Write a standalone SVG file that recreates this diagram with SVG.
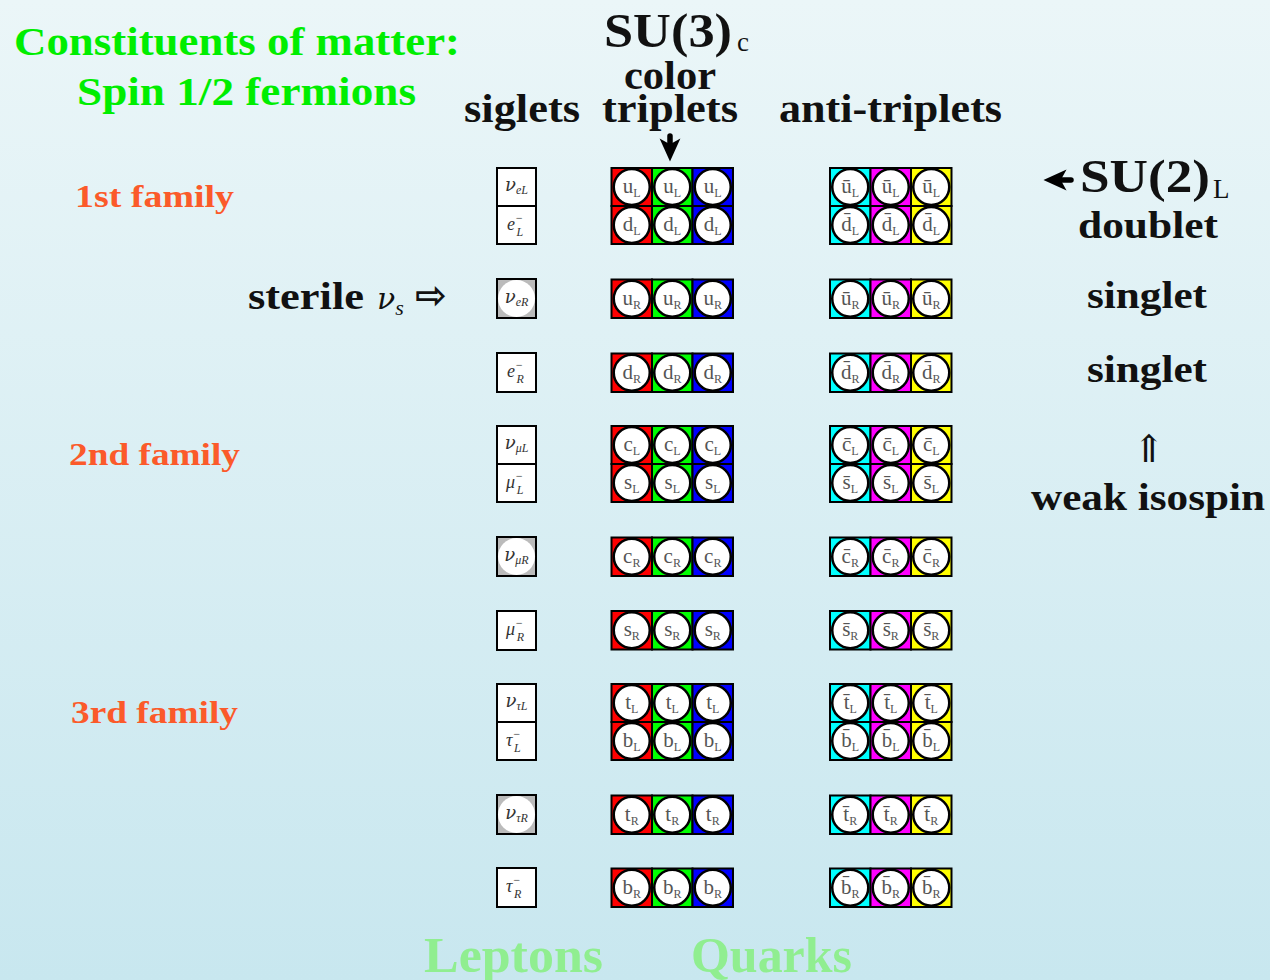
<svg xmlns="http://www.w3.org/2000/svg" width="1270" height="980" viewBox="0 0 1270 980">
<defs>
<linearGradient id="bg" x1="0" y1="0" x2="0" y2="1">
<stop offset="0" stop-color="#ebf6f8"/>
<stop offset="1" stop-color="#c8e7ef"/>
</linearGradient>
<marker id="ah" viewBox="0 0 10 10" refX="5" refY="5" markerWidth="4.2" markerHeight="4.2" orient="auto" markerUnits="strokeWidth">
<path d="M0,0.5 L10,5 L0,9.5 L2.5,5 Z" fill="#000"/>
</marker>
<style>
.bf{font-family:"Liberation Serif",serif;font-weight:bold}
.nf{font-family:"Liberation Serif",serif}
.hd{fill:#111}
.fam{fill:#fb5a2a;font-size:32px}
.cell{stroke:#000;stroke-width:2}
.R{fill:#ff0000}.G{fill:#00ff00}.B{fill:#0000ff}.C{fill:#00ffff}.M{fill:#ff00ff}.Y{fill:#ffff00}
.ball{fill:#fff;stroke:#000;stroke-width:2.5}
.ql{font-family:"Liberation Serif",serif;font-size:21px;fill:#555;text-anchor:middle}
.sb{font-size:12px}
.lbox{fill:#fff;stroke:#000;stroke-width:2}
.gbox{fill:#bbbbbb;stroke:#000;stroke-width:2}
.wb{fill:#fff}
.lt{font-family:"Liberation Serif",serif;font-style:italic;font-size:18px;fill:#333}
.nu{font-family:"DejaVu Serif",serif}
.ls{font-size:12px}
.conn{stroke:#000;stroke-width:5.5;fill:none;stroke-linecap:round}
</style>
</defs>
<rect width="1270" height="980" fill="url(#bg)"/>

<g id="titles">
<text class="bf" x="14" y="55" font-size="40" fill="#00ee00" textLength="446" lengthAdjust="spacingAndGlyphs">Constituents of matter:</text>
<text class="bf" x="77" y="105" font-size="40" fill="#00ee00" textLength="339" lengthAdjust="spacingAndGlyphs">Spin 1/2 fermions</text>
<text class="bf hd" x="604" y="47" font-size="48" textLength="128" lengthAdjust="spacingAndGlyphs">SU(3)</text>
<text class="nf hd" x="737" y="51" font-size="27">c</text>
<text class="bf hd" x="624" y="89" font-size="40" textLength="92" lengthAdjust="spacingAndGlyphs">color</text>
<text class="bf hd" x="464" y="122" font-size="40" textLength="116" lengthAdjust="spacingAndGlyphs">siglets</text>
<text class="bf hd" x="602" y="122" font-size="40" textLength="136" lengthAdjust="spacingAndGlyphs">triplets</text>
<text class="bf hd" x="779" y="122" font-size="40" textLength="223" lengthAdjust="spacingAndGlyphs">anti-triplets</text>
<text class="bf fam" x="75" y="207" textLength="159" lengthAdjust="spacingAndGlyphs">1st family</text>
<text class="bf fam" x="69" y="465" textLength="171" lengthAdjust="spacingAndGlyphs">2nd family</text>
<text class="bf fam" x="71" y="723" textLength="167" lengthAdjust="spacingAndGlyphs">3rd family</text>
<text class="bf hd" x="248" y="309" font-size="38" textLength="116" lengthAdjust="spacingAndGlyphs">sterile</text>
<text class="hd" x="377" y="309" font-family="DejaVu Serif,serif" font-size="30" font-style="italic">ν<tspan font-family="Liberation Serif,serif" font-size="22" dy="6">s</tspan></text>
<text x="431" y="308" font-family="DejaVu Sans,sans-serif" font-weight="bold" font-size="38" text-anchor="middle" fill="#111">⇨</text>
<text class="bf hd" x="1080" y="192" font-size="46" textLength="130" lengthAdjust="spacingAndGlyphs">SU(2)</text>
<text class="nf hd" x="1213" y="198" font-size="27">L</text>
<text class="bf hd" x="1078" y="238" font-size="38" textLength="140" lengthAdjust="spacingAndGlyphs">doublet</text>
<text class="bf hd" x="1087" y="308" font-size="38" textLength="120" lengthAdjust="spacingAndGlyphs">singlet</text>
<text class="bf hd" x="1087" y="382" font-size="38" textLength="120" lengthAdjust="spacingAndGlyphs">singlet</text>
<text x="1149" y="462" font-family="DejaVu Serif,serif" font-size="38" text-anchor="middle" fill="#111">⇑</text>
<text class="bf hd" x="1031" y="510" font-size="38" textLength="234" lengthAdjust="spacingAndGlyphs">weak isospin</text>
<text class="bf" x="424" y="972" font-size="50" fill="#90ee90" textLength="179" lengthAdjust="spacingAndGlyphs">Leptons</text>
<text class="bf" x="691" y="972" font-size="50" fill="#90ee90" textLength="161" lengthAdjust="spacingAndGlyphs">Quarks</text>
</g>

<g id="connectors">
<path class="conn" d="M670,136 L670,150" marker-end="url(#ah)"/>
<path class="conn" d="M1071,180 L1055,180" marker-end="url(#ah)"/>
</g>

<!-- Leptons -->
<g id="nu-eL" transform="translate(497,168)"><rect class="lbox" width="39" height="38"/><text class="lt" x="19.5" y="23" text-anchor="middle"><tspan class="nu">ν</tspan><tspan class="ls" dy="3">eL</tspan></text></g>
<g id="e-L" transform="translate(497,206)"><rect class="lbox" width="39" height="38"/><text class="lt" x="10" y="24">e<tspan class="ls" dy="-8">−</tspan><tspan class="ls" dx="-6.5" dy="14">L</tspan></text></g>
<g id="nu-eR" transform="translate(497,279)"><rect class="gbox" width="39" height="39"/><circle class="wb" cx="19.5" cy="19.5" r="18.5"/><text class="lt" x="19.5" y="24" text-anchor="middle" font-size="17"><tspan class="nu">ν</tspan><tspan class="ls" dy="3">eR</tspan></text></g>
<g id="e-R" transform="translate(497,353)"><rect class="lbox" width="39" height="39"/><text class="lt" x="10" y="24">e<tspan class="ls" dy="-8">−</tspan><tspan class="ls" dx="-6.5" dy="14">R</tspan></text></g>
<g id="nu-muL" transform="translate(497,426)"><rect class="lbox" width="39" height="38"/><text class="lt" x="19.5" y="23" text-anchor="middle"><tspan class="nu">ν</tspan><tspan class="ls" dy="3">μL</tspan></text></g>
<g id="mu-L" transform="translate(497,464)"><rect class="lbox" width="39" height="38"/><text class="lt" x="9" y="24">μ<tspan class="ls" dy="-8">−</tspan><tspan class="ls" dx="-6.5" dy="14">L</tspan></text></g>
<g id="nu-muR" transform="translate(497,537)"><rect class="gbox" width="39" height="39"/><circle class="wb" cx="19.5" cy="19.5" r="18.5"/><text class="lt" x="19.5" y="24" text-anchor="middle" font-size="17"><tspan class="nu">ν</tspan><tspan class="ls" dy="3">μR</tspan></text></g>
<g id="mu-R" transform="translate(497,611)"><rect class="lbox" width="39" height="39"/><text class="lt" x="9" y="24">μ<tspan class="ls" dy="-8">−</tspan><tspan class="ls" dx="-6.5" dy="14">R</tspan></text></g>
<g id="nu-tauL" transform="translate(497,684)"><rect class="lbox" width="39" height="38"/><text class="lt" x="19.5" y="23" text-anchor="middle"><tspan class="nu">ν</tspan><tspan class="ls" dy="3">τL</tspan></text></g>
<g id="tau-L" transform="translate(497,722)"><rect class="lbox" width="39" height="38"/><text class="lt" x="9" y="24">τ<tspan class="ls" dy="-8">−</tspan><tspan class="ls" dx="-6.5" dy="14">L</tspan></text></g>
<g id="nu-tauR" transform="translate(497,795)"><rect class="gbox" width="39" height="39"/><circle class="wb" cx="19.5" cy="19.5" r="18.5"/><text class="lt" x="19.5" y="24" text-anchor="middle" font-size="17"><tspan class="nu">ν</tspan><tspan class="ls" dy="3">τR</tspan></text></g>
<g id="tau-R" transform="translate(497,868)"><rect class="lbox" width="39" height="39"/><text class="lt" x="9" y="24">τ<tspan class="ls" dy="-8">−</tspan><tspan class="ls" dx="-6.5" dy="14">R</tspan></text></g>

<!-- Quarks family 1 -->
<g id="uL-r" transform="translate(611.5,168)"><rect class="cell R" width="40.5" height="38"/><circle class="ball" cx="20.25" cy="19" r="18"/><text class="ql" x="20.25" y="25">u<tspan class="sb" dy="4">L</tspan></text></g>
<g id="uL-g" transform="translate(652,168)"><rect class="cell G" width="40.5" height="38"/><circle class="ball" cx="20.25" cy="19" r="18"/><text class="ql" x="20.25" y="25">u<tspan class="sb" dy="4">L</tspan></text></g>
<g id="uL-b" transform="translate(692.5,168)"><rect class="cell B" width="40.5" height="38"/><circle class="ball" cx="20.25" cy="19" r="18"/><text class="ql" x="20.25" y="25">u<tspan class="sb" dy="4">L</tspan></text></g>
<g id="dL-r" transform="translate(611.5,206)"><rect class="cell R" width="40.5" height="38"/><circle class="ball" cx="20.25" cy="19" r="18"/><text class="ql" x="20.25" y="25">d<tspan class="sb" dy="4">L</tspan></text></g>
<g id="dL-g" transform="translate(652,206)"><rect class="cell G" width="40.5" height="38"/><circle class="ball" cx="20.25" cy="19" r="18"/><text class="ql" x="20.25" y="25">d<tspan class="sb" dy="4">L</tspan></text></g>
<g id="dL-b" transform="translate(692.5,206)"><rect class="cell B" width="40.5" height="38"/><circle class="ball" cx="20.25" cy="19" r="18"/><text class="ql" x="20.25" y="25">d<tspan class="sb" dy="4">L</tspan></text></g>
<g id="uR-r" transform="translate(611.5,279.5)"><rect class="cell R" width="40.5" height="38.5"/><circle class="ball" cx="20.25" cy="19.25" r="18"/><text class="ql" x="20.25" y="25">u<tspan class="sb" dy="4">R</tspan></text></g>
<g id="uR-g" transform="translate(652,279.5)"><rect class="cell G" width="40.5" height="38.5"/><circle class="ball" cx="20.25" cy="19.25" r="18"/><text class="ql" x="20.25" y="25">u<tspan class="sb" dy="4">R</tspan></text></g>
<g id="uR-b" transform="translate(692.5,279.5)"><rect class="cell B" width="40.5" height="38.5"/><circle class="ball" cx="20.25" cy="19.25" r="18"/><text class="ql" x="20.25" y="25">u<tspan class="sb" dy="4">R</tspan></text></g>
<g id="dR-r" transform="translate(611.5,353.5)"><rect class="cell R" width="40.5" height="38.5"/><circle class="ball" cx="20.25" cy="19.25" r="18"/><text class="ql" x="20.25" y="25">d<tspan class="sb" dy="4">R</tspan></text></g>
<g id="dR-g" transform="translate(652,353.5)"><rect class="cell G" width="40.5" height="38.5"/><circle class="ball" cx="20.25" cy="19.25" r="18"/><text class="ql" x="20.25" y="25">d<tspan class="sb" dy="4">R</tspan></text></g>
<g id="dR-b" transform="translate(692.5,353.5)"><rect class="cell B" width="40.5" height="38.5"/><circle class="ball" cx="20.25" cy="19.25" r="18"/><text class="ql" x="20.25" y="25">d<tspan class="sb" dy="4">R</tspan></text></g>

<!-- Antiquarks family 1 -->
<g id="ubL-c" transform="translate(830,168)"><rect class="cell C" width="40.5" height="38"/><circle class="ball" cx="20.25" cy="19" r="18"/><text class="ql" x="20.25" y="25">ū<tspan class="sb" dy="4">L</tspan></text></g>
<g id="ubL-m" transform="translate(870.5,168)"><rect class="cell M" width="40.5" height="38"/><circle class="ball" cx="20.25" cy="19" r="18"/><text class="ql" x="20.25" y="25">ū<tspan class="sb" dy="4">L</tspan></text></g>
<g id="ubL-y" transform="translate(911,168)"><rect class="cell Y" width="40.5" height="38"/><circle class="ball" cx="20.25" cy="19" r="18"/><text class="ql" x="20.25" y="25">ū<tspan class="sb" dy="4">L</tspan></text></g>
<g id="dbL-c" transform="translate(830,206)"><rect class="cell C" width="40.5" height="38"/><circle class="ball" cx="20.25" cy="19" r="18"/><text class="ql" x="20.25" y="25">d̄<tspan class="sb" dy="4">L</tspan></text></g>
<g id="dbL-m" transform="translate(870.5,206)"><rect class="cell M" width="40.5" height="38"/><circle class="ball" cx="20.25" cy="19" r="18"/><text class="ql" x="20.25" y="25">d̄<tspan class="sb" dy="4">L</tspan></text></g>
<g id="dbL-y" transform="translate(911,206)"><rect class="cell Y" width="40.5" height="38"/><circle class="ball" cx="20.25" cy="19" r="18"/><text class="ql" x="20.25" y="25">d̄<tspan class="sb" dy="4">L</tspan></text></g>
<g id="ubR-c" transform="translate(830,279.5)"><rect class="cell C" width="40.5" height="38.5"/><circle class="ball" cx="20.25" cy="19.25" r="18"/><text class="ql" x="20.25" y="25">ū<tspan class="sb" dy="4">R</tspan></text></g>
<g id="ubR-m" transform="translate(870.5,279.5)"><rect class="cell M" width="40.5" height="38.5"/><circle class="ball" cx="20.25" cy="19.25" r="18"/><text class="ql" x="20.25" y="25">ū<tspan class="sb" dy="4">R</tspan></text></g>
<g id="ubR-y" transform="translate(911,279.5)"><rect class="cell Y" width="40.5" height="38.5"/><circle class="ball" cx="20.25" cy="19.25" r="18"/><text class="ql" x="20.25" y="25">ū<tspan class="sb" dy="4">R</tspan></text></g>
<g id="dbR-c" transform="translate(830,353.5)"><rect class="cell C" width="40.5" height="38.5"/><circle class="ball" cx="20.25" cy="19.25" r="18"/><text class="ql" x="20.25" y="25">d̄<tspan class="sb" dy="4">R</tspan></text></g>
<g id="dbR-m" transform="translate(870.5,353.5)"><rect class="cell M" width="40.5" height="38.5"/><circle class="ball" cx="20.25" cy="19.25" r="18"/><text class="ql" x="20.25" y="25">d̄<tspan class="sb" dy="4">R</tspan></text></g>
<g id="dbR-y" transform="translate(911,353.5)"><rect class="cell Y" width="40.5" height="38.5"/><circle class="ball" cx="20.25" cy="19.25" r="18"/><text class="ql" x="20.25" y="25">d̄<tspan class="sb" dy="4">R</tspan></text></g>

<!-- Quarks family 2 -->
<g id="cL-r" transform="translate(611.5,426)"><rect class="cell R" width="40.5" height="38"/><circle class="ball" cx="20.25" cy="19" r="18"/><text class="ql" x="20.25" y="25">c<tspan class="sb" dy="4">L</tspan></text></g>
<g id="cL-g" transform="translate(652,426)"><rect class="cell G" width="40.5" height="38"/><circle class="ball" cx="20.25" cy="19" r="18"/><text class="ql" x="20.25" y="25">c<tspan class="sb" dy="4">L</tspan></text></g>
<g id="cL-b" transform="translate(692.5,426)"><rect class="cell B" width="40.5" height="38"/><circle class="ball" cx="20.25" cy="19" r="18"/><text class="ql" x="20.25" y="25">c<tspan class="sb" dy="4">L</tspan></text></g>
<g id="sL-r" transform="translate(611.5,464)"><rect class="cell R" width="40.5" height="38"/><circle class="ball" cx="20.25" cy="19" r="18"/><text class="ql" x="20.25" y="25">s<tspan class="sb" dy="4">L</tspan></text></g>
<g id="sL-g" transform="translate(652,464)"><rect class="cell G" width="40.5" height="38"/><circle class="ball" cx="20.25" cy="19" r="18"/><text class="ql" x="20.25" y="25">s<tspan class="sb" dy="4">L</tspan></text></g>
<g id="sL-b" transform="translate(692.5,464)"><rect class="cell B" width="40.5" height="38"/><circle class="ball" cx="20.25" cy="19" r="18"/><text class="ql" x="20.25" y="25">s<tspan class="sb" dy="4">L</tspan></text></g>
<g id="cR-r" transform="translate(611.5,537.5)"><rect class="cell R" width="40.5" height="38.5"/><circle class="ball" cx="20.25" cy="19.25" r="18"/><text class="ql" x="20.25" y="25">c<tspan class="sb" dy="4">R</tspan></text></g>
<g id="cR-g" transform="translate(652,537.5)"><rect class="cell G" width="40.5" height="38.5"/><circle class="ball" cx="20.25" cy="19.25" r="18"/><text class="ql" x="20.25" y="25">c<tspan class="sb" dy="4">R</tspan></text></g>
<g id="cR-b" transform="translate(692.5,537.5)"><rect class="cell B" width="40.5" height="38.5"/><circle class="ball" cx="20.25" cy="19.25" r="18"/><text class="ql" x="20.25" y="25">c<tspan class="sb" dy="4">R</tspan></text></g>
<g id="sR-r" transform="translate(611.5,611)"><rect class="cell R" width="40.5" height="38.5"/><circle class="ball" cx="20.25" cy="19.25" r="18"/><text class="ql" x="20.25" y="25">s<tspan class="sb" dy="4">R</tspan></text></g>
<g id="sR-g" transform="translate(652,611)"><rect class="cell G" width="40.5" height="38.5"/><circle class="ball" cx="20.25" cy="19.25" r="18"/><text class="ql" x="20.25" y="25">s<tspan class="sb" dy="4">R</tspan></text></g>
<g id="sR-b" transform="translate(692.5,611)"><rect class="cell B" width="40.5" height="38.5"/><circle class="ball" cx="20.25" cy="19.25" r="18"/><text class="ql" x="20.25" y="25">s<tspan class="sb" dy="4">R</tspan></text></g>

<!-- Antiquarks family 2 -->
<g id="cbL-c" transform="translate(830,426)"><rect class="cell C" width="40.5" height="38"/><circle class="ball" cx="20.25" cy="19" r="18"/><text class="ql" x="20.25" y="25">c̄<tspan class="sb" dy="4">L</tspan></text></g>
<g id="cbL-m" transform="translate(870.5,426)"><rect class="cell M" width="40.5" height="38"/><circle class="ball" cx="20.25" cy="19" r="18"/><text class="ql" x="20.25" y="25">c̄<tspan class="sb" dy="4">L</tspan></text></g>
<g id="cbL-y" transform="translate(911,426)"><rect class="cell Y" width="40.5" height="38"/><circle class="ball" cx="20.25" cy="19" r="18"/><text class="ql" x="20.25" y="25">c̄<tspan class="sb" dy="4">L</tspan></text></g>
<g id="sbL-c" transform="translate(830,464)"><rect class="cell C" width="40.5" height="38"/><circle class="ball" cx="20.25" cy="19" r="18"/><text class="ql" x="20.25" y="25">s̄<tspan class="sb" dy="4">L</tspan></text></g>
<g id="sbL-m" transform="translate(870.5,464)"><rect class="cell M" width="40.5" height="38"/><circle class="ball" cx="20.25" cy="19" r="18"/><text class="ql" x="20.25" y="25">s̄<tspan class="sb" dy="4">L</tspan></text></g>
<g id="sbL-y" transform="translate(911,464)"><rect class="cell Y" width="40.5" height="38"/><circle class="ball" cx="20.25" cy="19" r="18"/><text class="ql" x="20.25" y="25">s̄<tspan class="sb" dy="4">L</tspan></text></g>
<g id="cbR-c" transform="translate(830,537.5)"><rect class="cell C" width="40.5" height="38.5"/><circle class="ball" cx="20.25" cy="19.25" r="18"/><text class="ql" x="20.25" y="25">c̄<tspan class="sb" dy="4">R</tspan></text></g>
<g id="cbR-m" transform="translate(870.5,537.5)"><rect class="cell M" width="40.5" height="38.5"/><circle class="ball" cx="20.25" cy="19.25" r="18"/><text class="ql" x="20.25" y="25">c̄<tspan class="sb" dy="4">R</tspan></text></g>
<g id="cbR-y" transform="translate(911,537.5)"><rect class="cell Y" width="40.5" height="38.5"/><circle class="ball" cx="20.25" cy="19.25" r="18"/><text class="ql" x="20.25" y="25">c̄<tspan class="sb" dy="4">R</tspan></text></g>
<g id="sbR-c" transform="translate(830,611)"><rect class="cell C" width="40.5" height="38.5"/><circle class="ball" cx="20.25" cy="19.25" r="18"/><text class="ql" x="20.25" y="25">s̄<tspan class="sb" dy="4">R</tspan></text></g>
<g id="sbR-m" transform="translate(870.5,611)"><rect class="cell M" width="40.5" height="38.5"/><circle class="ball" cx="20.25" cy="19.25" r="18"/><text class="ql" x="20.25" y="25">s̄<tspan class="sb" dy="4">R</tspan></text></g>
<g id="sbR-y" transform="translate(911,611)"><rect class="cell Y" width="40.5" height="38.5"/><circle class="ball" cx="20.25" cy="19.25" r="18"/><text class="ql" x="20.25" y="25">s̄<tspan class="sb" dy="4">R</tspan></text></g>

<!-- Quarks family 3 -->
<g id="tL-r" transform="translate(611.5,684)"><rect class="cell R" width="40.5" height="38"/><circle class="ball" cx="20.25" cy="19" r="18"/><text class="ql" x="20.25" y="25">t<tspan class="sb" dy="4">L</tspan></text></g>
<g id="tL-g" transform="translate(652,684)"><rect class="cell G" width="40.5" height="38"/><circle class="ball" cx="20.25" cy="19" r="18"/><text class="ql" x="20.25" y="25">t<tspan class="sb" dy="4">L</tspan></text></g>
<g id="tL-b" transform="translate(692.5,684)"><rect class="cell B" width="40.5" height="38"/><circle class="ball" cx="20.25" cy="19" r="18"/><text class="ql" x="20.25" y="25">t<tspan class="sb" dy="4">L</tspan></text></g>
<g id="bL-r" transform="translate(611.5,722)"><rect class="cell R" width="40.5" height="38"/><circle class="ball" cx="20.25" cy="19" r="18"/><text class="ql" x="20.25" y="25">b<tspan class="sb" dy="4">L</tspan></text></g>
<g id="bL-g" transform="translate(652,722)"><rect class="cell G" width="40.5" height="38"/><circle class="ball" cx="20.25" cy="19" r="18"/><text class="ql" x="20.25" y="25">b<tspan class="sb" dy="4">L</tspan></text></g>
<g id="bL-b" transform="translate(692.5,722)"><rect class="cell B" width="40.5" height="38"/><circle class="ball" cx="20.25" cy="19" r="18"/><text class="ql" x="20.25" y="25">b<tspan class="sb" dy="4">L</tspan></text></g>
<g id="tR-r" transform="translate(611.5,795.5)"><rect class="cell R" width="40.5" height="38.5"/><circle class="ball" cx="20.25" cy="19.25" r="18"/><text class="ql" x="20.25" y="25">t<tspan class="sb" dy="4">R</tspan></text></g>
<g id="tR-g" transform="translate(652,795.5)"><rect class="cell G" width="40.5" height="38.5"/><circle class="ball" cx="20.25" cy="19.25" r="18"/><text class="ql" x="20.25" y="25">t<tspan class="sb" dy="4">R</tspan></text></g>
<g id="tR-b" transform="translate(692.5,795.5)"><rect class="cell B" width="40.5" height="38.5"/><circle class="ball" cx="20.25" cy="19.25" r="18"/><text class="ql" x="20.25" y="25">t<tspan class="sb" dy="4">R</tspan></text></g>
<g id="bR-r" transform="translate(611.5,868.5)"><rect class="cell R" width="40.5" height="38.5"/><circle class="ball" cx="20.25" cy="19.25" r="18"/><text class="ql" x="20.25" y="25">b<tspan class="sb" dy="4">R</tspan></text></g>
<g id="bR-g" transform="translate(652,868.5)"><rect class="cell G" width="40.5" height="38.5"/><circle class="ball" cx="20.25" cy="19.25" r="18"/><text class="ql" x="20.25" y="25">b<tspan class="sb" dy="4">R</tspan></text></g>
<g id="bR-b" transform="translate(692.5,868.5)"><rect class="cell B" width="40.5" height="38.5"/><circle class="ball" cx="20.25" cy="19.25" r="18"/><text class="ql" x="20.25" y="25">b<tspan class="sb" dy="4">R</tspan></text></g>

<!-- Antiquarks family 3 -->
<g id="tbL-c" transform="translate(830,684)"><rect class="cell C" width="40.5" height="38"/><circle class="ball" cx="20.25" cy="19" r="18"/><text class="ql" x="20.25" y="25">t̄<tspan class="sb" dy="4">L</tspan></text></g>
<g id="tbL-m" transform="translate(870.5,684)"><rect class="cell M" width="40.5" height="38"/><circle class="ball" cx="20.25" cy="19" r="18"/><text class="ql" x="20.25" y="25">t̄<tspan class="sb" dy="4">L</tspan></text></g>
<g id="tbL-y" transform="translate(911,684)"><rect class="cell Y" width="40.5" height="38"/><circle class="ball" cx="20.25" cy="19" r="18"/><text class="ql" x="20.25" y="25">t̄<tspan class="sb" dy="4">L</tspan></text></g>
<g id="bbL-c" transform="translate(830,722)"><rect class="cell C" width="40.5" height="38"/><circle class="ball" cx="20.25" cy="19" r="18"/><text class="ql" x="20.25" y="25">b̄<tspan class="sb" dy="4">L</tspan></text></g>
<g id="bbL-m" transform="translate(870.5,722)"><rect class="cell M" width="40.5" height="38"/><circle class="ball" cx="20.25" cy="19" r="18"/><text class="ql" x="20.25" y="25">b̄<tspan class="sb" dy="4">L</tspan></text></g>
<g id="bbL-y" transform="translate(911,722)"><rect class="cell Y" width="40.5" height="38"/><circle class="ball" cx="20.25" cy="19" r="18"/><text class="ql" x="20.25" y="25">b̄<tspan class="sb" dy="4">L</tspan></text></g>
<g id="tbR-c" transform="translate(830,795.5)"><rect class="cell C" width="40.5" height="38.5"/><circle class="ball" cx="20.25" cy="19.25" r="18"/><text class="ql" x="20.25" y="25">t̄<tspan class="sb" dy="4">R</tspan></text></g>
<g id="tbR-m" transform="translate(870.5,795.5)"><rect class="cell M" width="40.5" height="38.5"/><circle class="ball" cx="20.25" cy="19.25" r="18"/><text class="ql" x="20.25" y="25">t̄<tspan class="sb" dy="4">R</tspan></text></g>
<g id="tbR-y" transform="translate(911,795.5)"><rect class="cell Y" width="40.5" height="38.5"/><circle class="ball" cx="20.25" cy="19.25" r="18"/><text class="ql" x="20.25" y="25">t̄<tspan class="sb" dy="4">R</tspan></text></g>
<g id="bbR-c" transform="translate(830,868.5)"><rect class="cell C" width="40.5" height="38.5"/><circle class="ball" cx="20.25" cy="19.25" r="18"/><text class="ql" x="20.25" y="25">b̄<tspan class="sb" dy="4">R</tspan></text></g>
<g id="bbR-m" transform="translate(870.5,868.5)"><rect class="cell M" width="40.5" height="38.5"/><circle class="ball" cx="20.25" cy="19.25" r="18"/><text class="ql" x="20.25" y="25">b̄<tspan class="sb" dy="4">R</tspan></text></g>
<g id="bbR-y" transform="translate(911,868.5)"><rect class="cell Y" width="40.5" height="38.5"/><circle class="ball" cx="20.25" cy="19.25" r="18"/><text class="ql" x="20.25" y="25">b̄<tspan class="sb" dy="4">R</tspan></text></g>
</svg>
